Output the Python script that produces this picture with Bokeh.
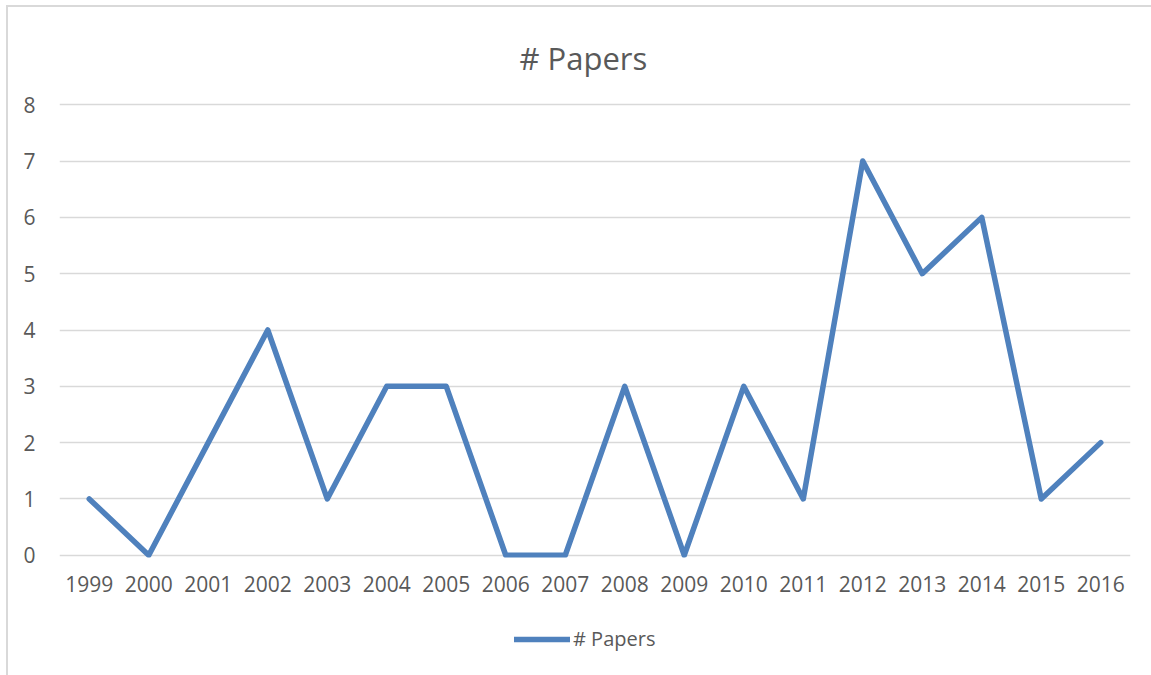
from bokeh.plotting import figure
from bokeh.layouts import column
from bokeh.models import ColumnDataSource, FactorRange, Range1d, Legend, LegendItem, SingleIntervalTicker
from bokeh.embed import file_html
from bokeh.resources import INLINE

# Papers published per year
years = ["1999", "2000", "2001", "2002", "2003", "2004", "2005", "2006", "2007",
         "2008", "2009", "2010", "2011", "2012", "2013", "2014", "2015", "2016"]
papers = [1, 0, 2, 4, 1, 3, 3, 0, 0, 3, 0, 3, 1, 7, 5, 6, 1, 2]
series_name = "# Papers"

LINE_COLOR = "#4f81bd"
TEXT_COLOR = "#595959"
GRID_COLOR = "#d9d9d9"
FONT = "Open Sans"

source = ColumnDataSource(data=dict(year=years, papers=papers))

p = figure(
    width=1143, height=605,
    x_range=FactorRange(*years),
    y_range=Range1d(-0.04, 8.04),
    output_backend="svg",
    toolbar_location=None,
    min_border_left=51, min_border_right=21,
    min_border_top=95, min_border_bottom=55,
)
p.outline_line_color = None
p.background_fill_color = "white"
p.border_fill_color = "white"

# title
p.title.text = series_name
p.title.align = "left"
p.title.offset = 460
p.title.text_font = FONT
p.title.text_font_size = "31px"
p.title.text_font_style = "normal"
p.title.text_color = TEXT_COLOR
p.title.standoff = 48

p.line("year", "papers", source=source, line_color=LINE_COLOR,
       line_width=5.5, line_join="round", line_cap="round")

# grid
p.xgrid.grid_line_color = None
p.ygrid.grid_line_color = GRID_COLOR
p.ygrid.grid_line_width = 1.5

# axes
p.yaxis.ticker = SingleIntervalTicker(interval=1)
for ax in (p.xaxis[0], p.yaxis[0]):
    ax.axis_line_color = None
    ax.major_tick_line_color = None
    ax.minor_tick_line_color = None
    ax.major_tick_out = 0
    ax.major_tick_in = 0
    ax.major_label_text_font = FONT
    ax.major_label_text_font_size = "21px"
    ax.major_label_text_color = TEXT_COLOR
p.yaxis.major_label_standoff = 20
p.xaxis.major_label_standoff = 18

# legend strip under the chart; the key line lies outside the visible range
leg = figure(
    width=1143, height=63,
    x_range=Range1d(0, 1), y_range=Range1d(0, 1),
    x_axis_type=None, y_axis_type=None,
    output_backend="svg", toolbar_location=None,
    min_border=0,
)
leg.outline_line_color = None
leg.background_fill_color = "white"
leg.border_fill_color = "white"
leg.xgrid.grid_line_color = None
leg.ygrid.grid_line_color = None
key = leg.line([5, 6], [5, 6], line_color=LINE_COLOR, line_width=5.5, line_cap="round")

legend = Legend(items=[LegendItem(label=series_name, renderers=[key])],
                orientation="horizontal", location=(455, 23),
                glyph_width=56, glyph_height=20, label_height=20, label_standoff=3,
                label_text_font=FONT, label_text_font_size="20px",
                label_text_color=TEXT_COLOR, border_line_color=None,
                background_fill_alpha=0, padding=0, margin=0)
leg.add_layout(legend)

layout = column(p, leg, spacing=0)
layout.margin = (5, 0, 0, 6)
layout.styles = {"border-left": f"2px solid {GRID_COLOR}", "border-top": f"2px solid {GRID_COLOR}",
                 "background-color": "white"}

open("out.html", "w").write(file_html(layout, INLINE))
